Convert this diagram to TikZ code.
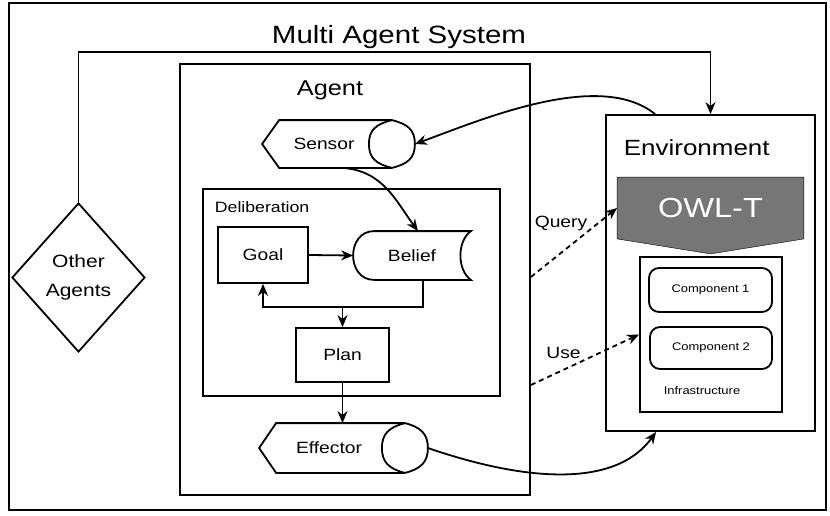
\documentclass[tikz,border=0pt]{standalone}
\usepackage{fontspec}
\setmainfont{Liberation Sans}[FakeStretch=1.18]
\usepackage{tikz}
\usetikzlibrary{shapes.geometric,arrows.meta,positioning,calc,backgrounds}
\definecolor{owlgray}{RGB}{118,118,118}
\newcommand{\fsz}[2]{\fontsize{#1}{#2}\selectfont}
% sensor / effector outline: pointed left end, lens on the right end
\newcommand{\devshape}[1]{%
  \draw ($(#1.north west)+(17,0)$) -- ($(#1.north east)+(-23,0)$)
    .. controls +(16,4) and +(0,-14) .. (#1.east)
    .. controls +(0,14) and +(16,-4) .. ($(#1.south east)+(-23,0)$)
    -- ($(#1.south west)+(17,0)$) -- (#1.west) -- cycle;
  \draw ($(#1.north east)+(-23,0)$) .. controls +(-16,4) and +(0,-14) .. ($(#1.east)+(-46,0)$)
    .. controls +(0,14) and +(-16,-4) .. ($(#1.south east)+(-23,0)$);}

\begin{document}
\begin{tikzpicture}[x=1pt, y=-1pt, line width=1.8pt, >={Stealth[length=12pt,width=10pt]},
  box/.style={rectangle, draw, line width=1.8pt, inner sep=0pt},
  comp/.style={box, rounded corners=10pt, font=\fsz{11}{13}},
  lbl/.style={font=\fsz{16.3}{19}, inner sep=0pt},
  flow/.style={->, line width=1.8pt},
  link/.style={->, line width=1.8pt, dash pattern=on 5pt off 4pt}]
\useasboundingbox (0,0) rectangle (830,515);
% Outer frame
\draw[line width=2.6pt] (9,3) rectangle (826,510);
\node[font=\fsz{25}{30}, inner sep=0pt, anchor=base] (title) at (399,43) {Multi Agent System};
% Agent
\node[box, minimum width=350pt, minimum height=431pt] (agent) at (355,279.5) {};
\node[font=\fsz{21.5}{26}, inner sep=0pt, anchor=base] (agentlbl) at (330,95) {Agent};
\node[inner sep=0pt, minimum width=151pt, minimum height=46pt] (sensor) at (338.5,144) {};
\devshape{sensor}
\node[lbl] (sensortxt) at (324,144) {Sensor};
% Deliberation
\node[box, minimum width=297pt, minimum height=207pt] (delib) at (351.5,292.5) {};
\node[font=\fsz{15}{18}, inner sep=0pt, anchor=base west] (delibl) at (214,212) {Deliberation};
\node[box, lbl, minimum width=90pt, minimum height=56pt] (goal) at (263,255) {Goal};
\node[lbl, minimum width=116pt, minimum height=47pt] (belief) at (412,255.5) {Belief};
\draw ($(belief.north west)+(21,0)$) -- (belief.north east)
  .. controls +(-14,10) and +(-14,-10) .. (belief.south east)
  -- ($(belief.south west)+(21,0)$)
  .. controls +(-28,0) and +(-28,0) .. ($(belief.north west)+(21,0)$) -- cycle;
\node[box, lbl, minimum width=93pt, minimum height=54pt] (plan) at (342.5,355) {Plan};
\node[inner sep=0pt, minimum width=167pt, minimum height=48pt] (effector) at (343.5,448) {};
\devshape{effector}
\node[lbl] (effectortxt) at (329,448) {Effector};
% Other agents
\node[diamond, draw, inner sep=0pt, minimum width=133pt, minimum height=149pt, align=center, font=\fsz{17.8}{29}] (others) at (78.5,277.5) {Other\\Agents};
% Environment
\node[box, minimum width=209pt, minimum height=316pt] (env) at (710.5,273) {};
\node[font=\fsz{22}{26}, inner sep=0pt, anchor=base west] (envlbl) at (623,155) {Environment};
\node[inner sep=0pt, minimum width=185pt, minimum height=60pt, text=white, font=\fsz{27.6}{32}] (owlt) at (710.5,208) {OWL-T};
\begin{scope}[on background layer]
\filldraw[fill=owlgray] (owlt.north west) -- (owlt.north east) -- (owlt.south east)
  -- ($(owlt.south)+(0,15)$) -- (owlt.south west) -- cycle;
\end{scope}
\node[box, minimum width=142pt, minimum height=155pt] (infra) at (711,334.5) {};
\node[comp, minimum width=123pt, minimum height=44pt] (comp1) at (710.5,290) {Component 1};
\node[comp, minimum width=122pt, minimum height=42pt] (comp2) at (711,348) {Component 2};
\node[font=\fsz{11}{13}, inner sep=0pt, anchor=base] (infralbl) at (702,394) {Infrastructure};
% Connectors
\coordinate (fbcorner) at (710.5,52);
\draw[flow] (others.north) |- (fbcorner) -- (env.north);
\draw[flow] ($(env.north west)+(50,0)$) .. controls +(-56,-45) and +(66,-24) .. (sensor.east);
\draw[flow] ($(sensor.south)+(4.5,0)$) .. controls +(40,3) and +(-22,-30) .. ($(belief.north)+(6,0)$);
\draw[flow] (goal.east) -- (belief.west);
\draw[flow] ($(belief.south)+(11,0)$) -- ++(0,27) -| (goal.south);
\coordinate (split) at (342.5,306);
\draw[flow] (split) -- (plan.north);
\draw[flow] (plan.south) -- (plan.south |- effector.north);
\draw[flow] (effector.east) .. controls +(93,32) and +(-42,58) .. ($(env.south west)+(51,0)$);
\draw[link] ($(agent.east)+(0,-2.5)$) -- (owlt.west);
\draw[link] ($(agent.east)+(0,105.5)$) -- (infra.west);
\node[lbl, anchor=base] (qlbl) at (561,227) {Query};
\node[lbl, anchor=base] (ulbl) at (563.5,358) {Use};
\end{tikzpicture}
\end{document}
